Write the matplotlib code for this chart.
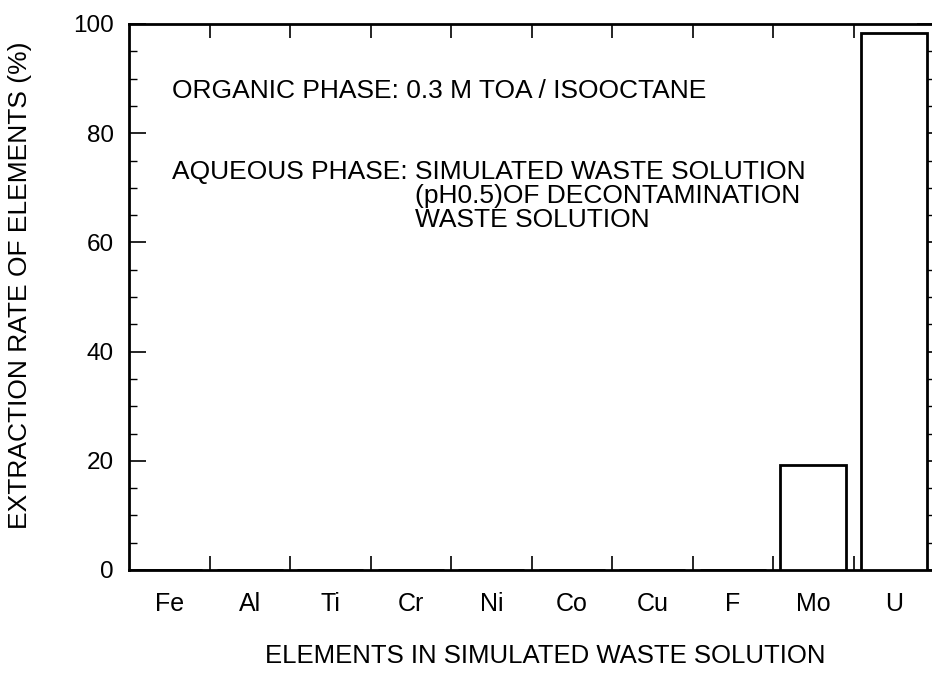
import numpy as np
import matplotlib
matplotlib.use('Agg')
import matplotlib.pyplot as plt
from matplotlib.ticker import MultipleLocator, FixedLocator, NullFormatter

# extraction rate per element
elements = ['Fe', 'Al', 'Ti', 'Cr', 'Ni', 'Co', 'Cu', 'F', 'Mo', 'U']
extraction_rate = [0, 0, 0, 0, 0, 0, 0, 0, 19.2, 98.3]

organic_line = "ORGANIC PHASE: 0.3 M TOA / ISOOCTANE"
aqueous_head = "AQUEOUS PHASE: "
aqueous_lines = ["SIMULATED WASTE SOLUTION",
                 "(pH0.5)OF DECONTAMINATION",
                 "WASTE SOLUTION"]

plt.rcParams['font.family'] = ['Liberation Sans', 'DejaVu Sans']

fig = plt.figure(figsize=(9.32, 6.73), dpi=100)
ax = fig.add_axes([129 / 932, 1 - 570 / 673, 805 / 932, 546 / 673])

x = np.arange(len(elements)) + 0.5
ax.bar(x, extraction_rate, width=0.82, color='white',
       edgecolor='black', linewidth=2, zorder=3)

ax.set_xlim(0, len(elements))
ax.set_ylim(0, 100)

# tick marks on the category boundaries, names in the middle
ax.xaxis.set_major_locator(FixedLocator(np.arange(1, len(elements))))
ax.xaxis.set_major_formatter(NullFormatter())
ax.xaxis.set_minor_locator(FixedLocator(x))
ax.set_xticklabels(elements, minor=True)
ax.tick_params(axis='x', which='major', direction='in', length=10, width=1.2,
               top=True, bottom=True)
ax.tick_params(axis='x', which='minor', length=0, pad=16, labelsize=18)

ax.yaxis.set_major_locator(MultipleLocator(20))
ax.yaxis.set_minor_locator(MultipleLocator(5))
ax.tick_params(axis='y', which='major', direction='in', length=12, width=1.2,
               left=True, right=True, labelsize=17.5, pad=11)
ax.tick_params(axis='y', which='minor', direction='in', length=6, width=1.0,
               left=True, right=True)

for s in ax.spines.values():
    s.set_linewidth(2)

ax.set_xlabel("ELEMENTS IN SIMULATED WASTE SOLUTION", fontsize=18.5, va='center')
ax.xaxis.set_label_coords(0.5 + (545 - 531.5) / 805, (570 - 656) / 546)
ax.set_ylabel("EXTRACTION RATE OF ELEMENTS (%)", fontsize=19, va='center')
ax.yaxis.set_label_coords((20 - 129) / 805, (570 - 285) / 546)

# annotation block
fs = 19
fig.text(172 / 932, 1 - 91 / 673, organic_line, fontsize=fs, va='center')
fig.text(172 / 932, 1 - 172 / 673, aqueous_head + aqueous_lines[0],
         fontsize=fs, va='center')
for i, line in enumerate(aqueous_lines[1:]):
    fig.text(415 / 932, 1 - (196 + 24 * i) / 673, line, fontsize=fs,
             va='center')

fig.savefig('out.png', dpi=100, facecolor='white')
